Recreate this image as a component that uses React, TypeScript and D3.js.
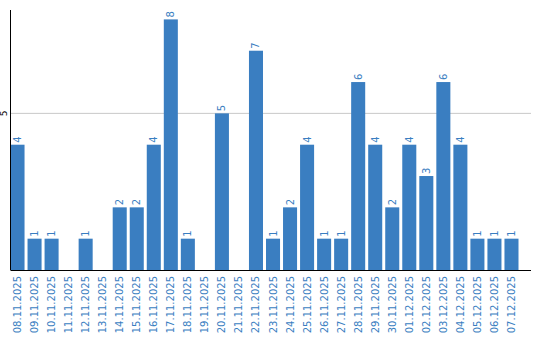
import React from "react";
import * as d3 from "d3";

const dates = [
  "08.11.2025","09.11.2025","10.11.2025","11.11.2025","12.11.2025","13.11.2025",
  "14.11.2025","15.11.2025","16.11.2025","17.11.2025","18.11.2025","19.11.2025",
  "20.11.2025","21.11.2025","22.11.2025","23.11.2025","24.11.2025","25.11.2025",
  "26.11.2025","27.11.2025","28.11.2025","29.11.2025","30.11.2025","01.12.2025",
  "02.12.2025","03.12.2025","04.12.2025","05.12.2025","06.12.2025","07.12.2025",
];
const counts = [4,1,1,0,1,0,2,2,4,8,1,0,5,0,7,1,2,4,1,1,6,4,2,4,3,6,4,1,1,1];
const yTicks = [5];

const BLUE = "#3a7ec1";
const FONT = "DejaVu Sans, Verdana, sans-serif";

export default function App() {
  const W = 540, H = 340;
  const left = 10.5, right = 531, top = 10, bottom = 270;
  const x = d3.scaleBand<string>().domain(dates).range([left, 518.5]).paddingInner(0.176).paddingOuter(0);
  const y = d3.scaleLinear().domain([0, 8.3]).range([bottom, top]);
  return (
    <svg width={W} height={H} style={{ position: "absolute", left: 0, top: 0, fontFamily: FONT }}>
      {yTicks.map((t) => (
        <g key={t}>
          <line x1={left} x2={right} y1={y(t)} y2={y(t)} stroke="#c8c8c8" strokeWidth={1} />
          <text transform={`translate(7,${y(t)}) rotate(-90)`} textAnchor="middle" fontSize={9} fill="#000">{t}</text>
        </g>
      ))}
      {dates.map((d, i) => (
        counts[i] > 0 ? (
          <rect key={d} x={x(d)} y={y(counts[i])} width={x.bandwidth()} height={bottom - y(counts[i])} fill={BLUE} />
        ) : null
      ))}
      {dates.map((d, i) => (
        counts[i] > 0 ? (
          <text key={"v" + d} transform={`translate(${(x(d) as number) + x.bandwidth() / 2 + 3.5},${y(counts[i]) - 2}) rotate(-90)`}
            textAnchor="start" fontSize={10} fill={BLUE}>{counts[i]}</text>
        ) : null
      ))}
      <line x1={left} x2={left} y1={top} y2={bottom} stroke="#000" strokeWidth={1} />
      <line x1={left} x2={right} y1={bottom + 0.5} y2={bottom + 0.5} stroke="#000" strokeWidth={1} />
      {dates.map((d) => (
        <text key={"l" + d} transform={`translate(${(x(d) as number) + x.bandwidth() / 2 + 3.5},${bottom + 6}) rotate(-90)`}
          textAnchor="end" fontSize={10} fill={BLUE}>{d}</text>
      ))}
    </svg>
  );
}
